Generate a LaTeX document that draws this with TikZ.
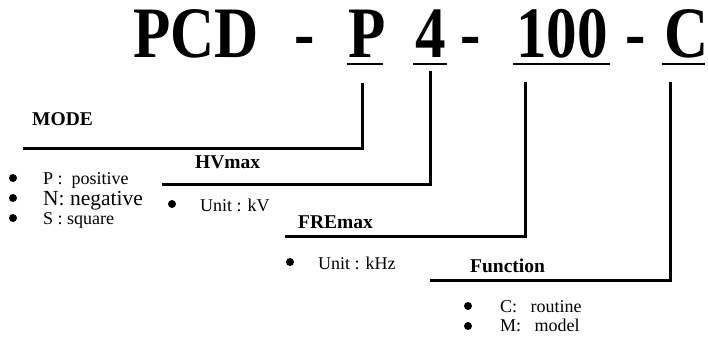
\documentclass[tikz,border=0pt]{standalone}
\usepackage{graphicx}
\usepackage{fontspec}
\setmainfont{Liberation Serif}
\newcommand\talltext[1]{\scalebox{0.97}[1.15]{#1}}
\begin{document}
\begin{tikzpicture}[x=1pt,y=-1pt,
 titletext/.style={font=\fontsize{63}{63}\selectfont\bfseries, inner sep=0pt, anchor=base west},
 headtext/.style={font=\fontsize{19.5}{20}\selectfont\bfseries, inner sep=0pt, anchor=base west},
 itemtext/.style={font=\fontsize{18}{18}\selectfont, inner sep=0pt, anchor=base west},
 bigitem/.style={font=\fontsize{21.5}{22}\selectfont, inner sep=0pt, anchor=base west},
 bulletdot/.style={circle, fill=black, inner sep=0pt, minimum size=8pt},
 leader/.style={line width=3pt, line join=miter},
 uline/.style={line width=2.5pt}
]
\useasboundingbox (0,0) rectangle (708,337);

% title
\node[titletext] (pcd) at (133,57) {\talltext{PCD}};
\node[titletext] (d1) at (294,57) {\talltext{-}};
\node[titletext] (p) at (348,57) {\talltext{P}};
\node[titletext] (four) at (415,57) {\talltext{4}};
\node[titletext] (d2) at (460,57) {\talltext{-}};
\node[titletext] (hund) at (516,57) {\talltext{100}};
\node[titletext] (d3) at (625,57) {\talltext{-}};
\node[titletext] (c) at (664,57) {\talltext{C}};

\draw[uline] (347,64) -- (383,64);
\draw[uline] (413,64) -- (447,64);
\draw[uline] (513,64) -- (610,64);
\draw[uline] (662,64) -- (705,64);

% MODE
\coordinate (Ptop) at (362,83);
\coordinate (modeS) at (23,148);
\node[headtext] (mode) at (32,125) {MODE};
\draw[leader] (modeS) -| (Ptop);
\node[bulletdot] (b1) at (13,178) {};
\node[bulletdot] (b2) at (13,198) {};
\node[bulletdot] (b3) at (13,218) {};
\node[itemtext] (t1) at (43,184) {P :\ \ positive};
\node[bigitem] (t2) at (43,205) {N: negative};
\node[itemtext] (t3) at (43,224) {S : square};

% HVmax
\coordinate (Ftop) at (430,71);
\coordinate (hvS) at (162,184);
\node[headtext] (hv) at (195,168) {HVmax};
\draw[leader] (hvS) -| (Ftop);
\node[bulletdot] (b4) at (172,204) {};
\node[itemtext] (t4) at (200,211) {Unit : kV};

% FREmax
\coordinate (Htop) at (525,82);
\coordinate (frS) at (285,236);
\node[headtext] (fre) at (298,228) {FREmax};
\draw[leader] (frS) -| (Htop);
\node[bulletdot] (b5) at (290,262) {};
\node[itemtext] (t5) at (318,269) {Unit : kHz};

% Function
\coordinate (Ctop) at (670,82);
\coordinate (fnS) at (430,280);
\node[headtext] (fn) at (470,272) {Function};
\draw[leader] (fnS) -| (Ctop);
\node[bulletdot] (b6) at (468,306) {};
\node[bulletdot] (b7) at (468,326) {};
\node[itemtext] (t6) at (500,312) {C:\ \ \ routine};
\node[itemtext] (t7) at (500,331) {M:\ \ \ model};
\end{tikzpicture}
\end{document}
